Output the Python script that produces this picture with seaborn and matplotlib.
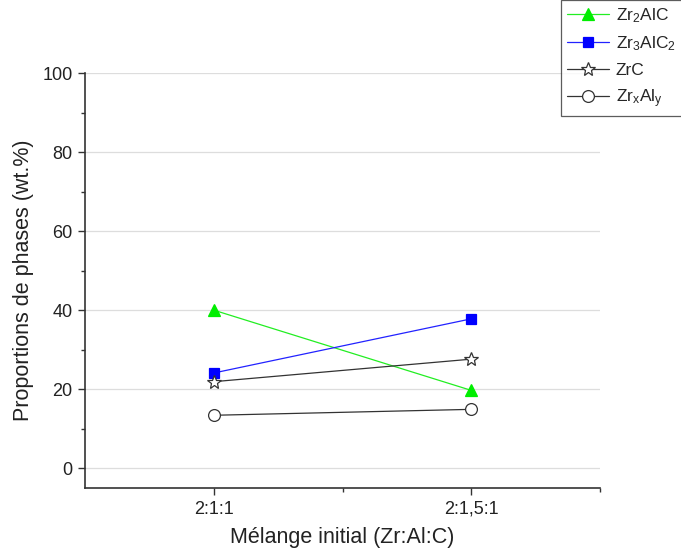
import matplotlib
matplotlib.use("Agg")
import matplotlib.pyplot as plt
import seaborn as sns
import pandas as pd
from matplotlib.ticker import MultipleLocator, FixedLocator

sns.set_theme(style="white")
plt.rcParams['font.family'] = ['Liberation Sans', 'DejaVu Sans']
plt.rcParams['mathtext.fontset'] = 'custom'
plt.rcParams['mathtext.rm'] = 'Liberation Sans'
plt.rcParams['mathtext.it'] = 'Liberation Sans'

categories = ["2:1:1", "2:1,5:1"]
zr2alc = [40.0, 19.7]
zr3alc2 = [24.1, 37.8]
zrc = [21.9, 27.6]
zrxaly = [13.4, 14.9]
series_labels = [r"Zr$_2$AlC", r"Zr$_3$AlC$_2$", "ZrC", r"Zr$_x$Al$_y$"]

rows = []
for lab, vals in zip(series_labels, [zr2alc, zr3alc2, zrc, zrxaly]):
    for i, v in enumerate(vals):
        rows.append({"x": i + 1, "y": v, "phase": lab})
df = pd.DataFrame(rows)

styles = {
    series_labels[0]: dict(color="#22ee22", marker="^", mfc="#00ee00", mec="#00ee00", ms=8.5),
    series_labels[1]: dict(color="#2222ff", marker="s", mfc="#0000ff", mec="#0000ff", ms=7),
    series_labels[2]: dict(color="#333333", marker="*", mfc="white", mec="#333333", ms=10),
    series_labels[3]: dict(color="#333333", marker="o", mfc="white", mec="#333333", ms=8.5),
}

fig = plt.figure(figsize=(6.81, 5.55), dpi=100)
ax = fig.add_axes([85/681, 67/555, 515/681, 415/555])

for lab in series_labels:
    st = styles[lab]
    sub = df[df["phase"] == lab]
    sns.lineplot(data=sub, x="x", y="y", ax=ax, color=st["color"], linewidth=0.9,
                 marker=st["marker"], markersize=st["ms"], markerfacecolor=st["mfc"],
                 markeredgecolor=st["mec"], markeredgewidth=0.9, label=lab)

ax.set_xlim(0.5, 2.5)
ax.set_ylim(-5, 100)
ax.xaxis.set_major_locator(FixedLocator([1, 2]))
ax.set_xticklabels(categories)
ax.xaxis.set_minor_locator(FixedLocator([1.5, 2.5]))
ax.yaxis.set_major_locator(MultipleLocator(20))
ax.yaxis.set_minor_locator(MultipleLocator(10))
ax.grid(axis="y", which="major", color="#dddddd", linewidth=0.9)
ax.grid(axis="x", visible=False)
for s in ["top", "right"]:
    ax.spines[s].set_visible(False)
for s in ["left", "bottom"]:
    ax.spines[s].set_color("#333333")
    ax.spines[s].set_linewidth(1.2)
ax.tick_params(axis="both", which="major", direction="out", length=5, width=1, color="#333333",
               labelsize=13, labelcolor="#222222", bottom=True, left=True, pad=4)
ax.tick_params(axis="both", which="minor", direction="out", length=3, width=1, color="#333333",
               bottom=True, left=True)
ax.set_xlabel("Mélange initial (Zr:Al:C)", fontsize=15.5, color="#222222", labelpad=7)
ax.set_ylabel("Proportions de phases (wt.%)", fontsize=15.5, color="#222222", labelpad=6)

leg = ax.legend(loc="upper left", bbox_to_anchor=(561/681, 1.0), bbox_transform=fig.transFigure,
                frameon=True, fancybox=False, edgecolor="#333333", fontsize=12.5,
                handlelength=2.4, borderpad=0.35, labelspacing=0.55, handletextpad=0.4,
                borderaxespad=0)
leg.get_frame().set_linewidth(0.9)

fig.savefig("out.png", dpi=100)
